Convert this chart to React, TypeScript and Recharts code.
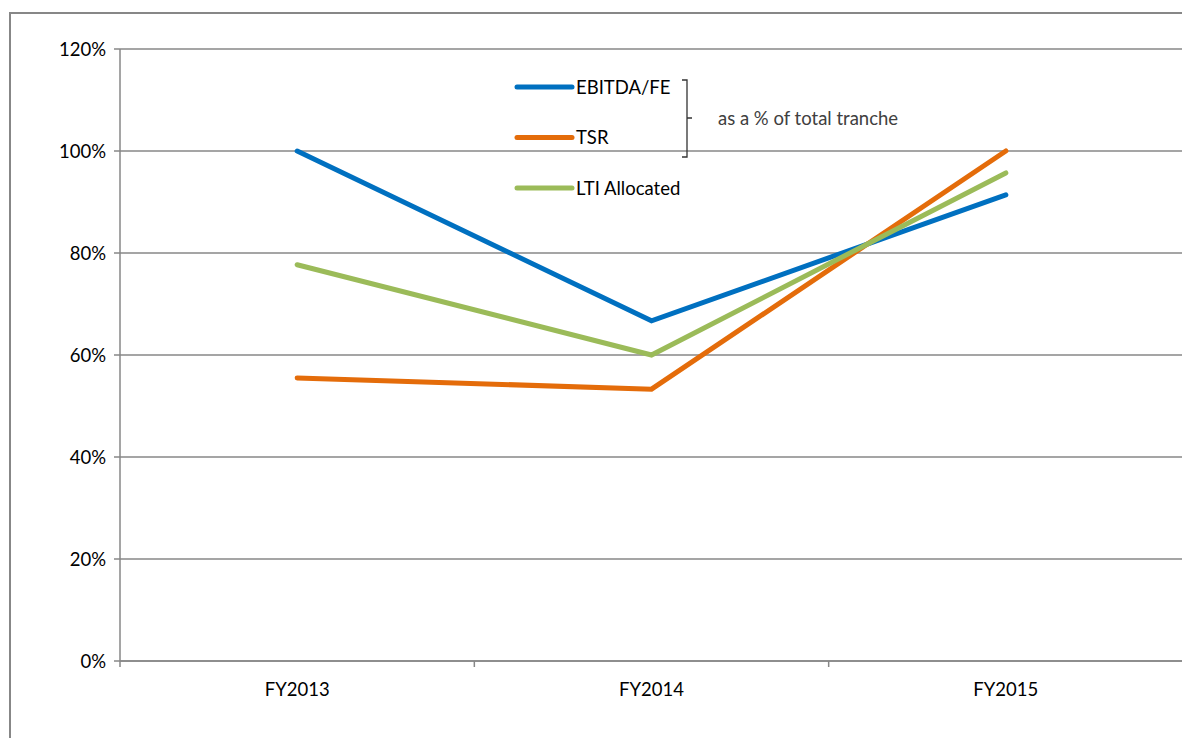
import React from 'react';
import { LineChart, Line, XAxis, YAxis, CartesianGrid, Legend } from 'recharts';

const categories = ['FY2013', 'FY2014', 'FY2015'];
const seriesNames = ['EBITDA/FE', 'TSR', 'LTI Allocated'];
const ebitdaFe = [100, 66.7, 91.4];
const tsr = [55.5, 53.3, 100];
const ltiAllocated = [77.7, 60, 95.7];
const yTicks = [0, 20, 40, 60, 80, 100, 120];

const GRAY = '#878787';
const FONT = 'Lato, "Liberation Sans", Arial, sans-serif';
const FS = 18.5;

// x is numeric so that tick marks can sit on the category boundaries
const data = categories.map((name, i) => ({
  pos: i + 0.5,
  name,
  ebitda: ebitdaFe[i],
  tsr: tsr[i],
  lti: ltiAllocated[i],
}));

const xTicks: number[] = [];
for (let i = 0; i <= categories.length * 2; i++) xTicks.push(i / 2);

function XTick(props: any) {
  const { x, y, payload } = props;
  const v = payload.value as number;
  if (Number.isInteger(v)) {
    return <line x1={x} x2={x} y1={y - 6} y2={y} stroke={GRAY} strokeWidth={1.5} />;
  }
  return (
    <text x={x} y={y + 29} textAnchor="middle" fontSize={FS} fontFamily={FONT} fill="#000">
      {categories[Math.floor(v)]}
    </text>
  );
}

function LegendBox(props: any) {
  const items = [...(props.payload || [])].sort(
    (a: any, b: any) => seriesNames.indexOf(a.value) - seriesNames.indexOf(b.value)
  );
  return (
    <svg width={420} height={140} style={{ overflow: 'visible' }}>
      {items.map((item: any, i: number) => {
        const y = 19 + i * 50.5;
        return (
          <g key={item.value}>
            <line x1={4} x2={59} y1={y} y2={y} stroke={item.color} strokeWidth={5} strokeLinecap="round" />
            <text x={63} y={y + 6.5} fontSize={FS} fontFamily={FONT} fill="#000">
              {item.value}
            </text>
          </g>
        );
      })}
      <path d="M169 12 H174 V89 H169 M174 50 H179" fill="none" stroke="#333" strokeWidth={1.3} />
      <text x={205} y={56.5} fontSize={FS} fontFamily={FONT} fill="#404040">
        as a % of total tranche
      </text>
    </svg>
  );
}

export default function App() {
  return (
    <div style={{ position: 'relative', width: 1182, height: 730, overflow: 'hidden', background: '#fff' }}>
      <div
        style={{
          position: 'absolute',
          left: 1,
          top: 4,
          width: 1300,
          height: 900,
          borderLeft: `2px solid ${GRAY}`,
          borderTop: `2px solid ${GRAY}`,
        }}
      />
      <LineChart
        width={1182}
        height={730}
        data={data}
        margin={{ top: 41, right: 7, left: 0, bottom: 47 }}
        style={{ position: 'absolute', left: 0, top: 0 }}
      >
        <CartesianGrid vertical={false} stroke={GRAY} strokeWidth={1.5} />
        <XAxis
          dataKey="pos"
          type="number"
          domain={[0, categories.length]}
          ticks={xTicks}
          interval={0}
          height={30}
          tickSize={6}
          tickMargin={0}
          tickLine={false}
          axisLine={{ stroke: GRAY, strokeWidth: 1.5 }}
          tick={<XTick />}
        />
        <YAxis
          width={112}
          domain={[0, 120]}
          ticks={yTicks}
          interval={0}
          tickFormatter={(v: number) => `${v}%`}
          tickSize={6}
          tickMargin={8}
          axisLine={{ stroke: GRAY, strokeWidth: 1.5 }}
          tickLine={{ stroke: GRAY, strokeWidth: 1.5 }}
          tick={{ fill: '#000', fontSize: FS, fontFamily: FONT }}
        />
        <Legend
          layout="vertical"
          align="center"
          verticalAlign="middle"
          content={<LegendBox />}
          wrapperStyle={{ left: 505, top: 60, width: 420, height: 140 }}
        />
        <Line name={seriesNames[0]} dataKey="ebitda" stroke="#0070C0" strokeWidth={5} strokeLinecap="round" dot={false} activeDot={false} isAnimationActive={false} />
        <Line name={seriesNames[1]} dataKey="tsr" stroke="#E46C0A" strokeWidth={5} strokeLinecap="round" dot={false} activeDot={false} isAnimationActive={false} />
        <Line name={seriesNames[2]} dataKey="lti" stroke="#9BBB59" strokeWidth={5} strokeLinecap="round" dot={false} activeDot={false} isAnimationActive={false} />
      </LineChart>
    </div>
  );
}
